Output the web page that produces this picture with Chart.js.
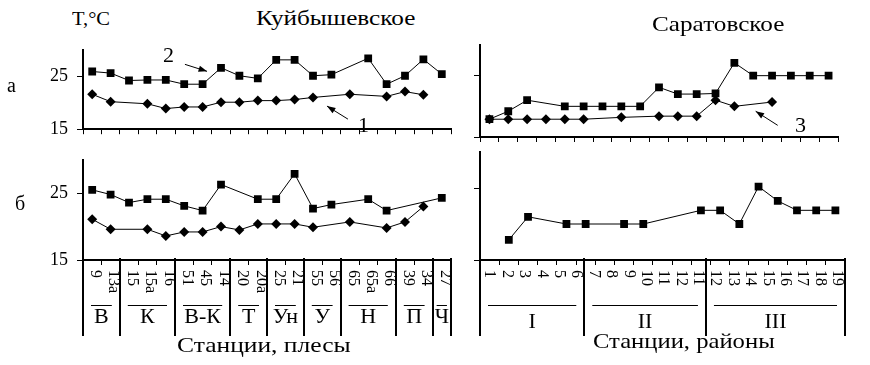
<!DOCTYPE html>
<html>
<head>
<meta charset="utf-8">
<script src="https://cdn.jsdelivr.net/npm/chart.js@4.4.1/dist/chart.umd.min.js"></script>
<style>
    body { margin: 0; background: #fff; }
    #wrap { position: relative; width: 870px; height: 365px; overflow: hidden; font-family: "Liberation Serif", "Times New Roman", serif; color: #000; }
    #wrap canvas { position: absolute; }
    .txt { position: absolute; line-height: 1; white-space: nowrap; transform-origin: left center; }
</style>
</head>
<body>
<div id="wrap">
    <canvas id="kTop" width="462" height="119" style="left:0;top:30px"></canvas>
    <canvas id="kBot" width="462" height="220" style="left:0;top:140px"></canvas>
    <canvas id="sTop" width="400" height="119" style="left:470px;top:30px"></canvas>
    <canvas id="sBot" width="400" height="220" style="left:470px;top:140px"></canvas>

    <div class="txt" style="left:72px;top:10px;font-size:18px;transform:scaleX(1.14)">T,°C</div>
    <div class="txt" style="left:256px;top:8px;font-size:21px;transform:scaleX(1.2)">Куйбышевское</div>
    <div class="txt" style="left:652px;top:14px;font-size:21px;transform:scaleX(1.2)">Саратовское</div>
    <div class="txt" style="left:7px;top:75px;font-size:20px">а</div>
    <div class="txt" style="left:15px;top:193px;font-size:20px">б</div>
    <div class="txt" style="left:163px;top:44px;font-size:22px">2</div>
    <div class="txt" style="left:358px;top:114px;font-size:22px">1</div>
    <div class="txt" style="left:795px;top:114px;font-size:22px">3</div>
    <div class="txt" style="left:177px;top:334px;font-size:22px;transform:scaleX(1.16)">Станции, плесы</div>
    <div class="txt" style="left:593px;top:330px;font-size:22px;transform:scaleX(1.12)">Станции, районы</div>
</div>
<script>
    // Куйбышевское: станции и плесы
    const kuibStations = ['9', '13а', '15', '15а', '16', '51', '45', '14', '20', '20а', '25', '21', '55', '56', '65', '65а', '66', '39', '34', '27'];
    const kuibReaches = ['В', 'К', 'В-К', 'Т', 'Ун', 'У', 'Н', 'П', 'Ч'];
    const kuibReachSizes = [2, 3, 3, 2, 2, 2, 3, 2, 1];

    // а) кривая 2 (квадраты) и 1 (ромбы)
    const kuibTop2 = [25.9, 25.6, 24.2, 24.3, 24.3, 23.5, 23.5, 26.6, 25.1, 24.6, 28.1, 28.1, 25.1, 25.3, null, 28.4, 23.5, 25.1, 28.2, 25.4];
    const kuibTop1 = [21.6, 20.2, null, 19.8, 18.9, 19.2, 19.2, 20.1, 20.1, 20.4, 20.4, 20.6, 21.0, null, 21.6, null, 21.2, 22.1, 21.5, null];
    // б)
    const kuibBot2 = [25.5, 24.8, 23.6, 24.1, 24.1, 23.1, 22.4, 26.3, null, 24.1, 24.1, 27.9, 22.7, 23.3, null, 24.1, 22.4, null, null, 24.3];
    const kuibBot1 = [21.1, 19.6, null, 19.6, 18.6, 19.2, 19.2, 20.0, 19.5, 20.4, 20.4, 20.4, 19.9, null, 20.7, null, 19.8, 20.7, 23.0, null];

    // Саратовское: станции и районы
    const sarStations = ['1', '2', '3', '4', '5', '6', '7', '8', '9', '10', '11', '12', '13', '14', '15', '16', '17', '18', '19'];
    const sarTickLabels = ['1', '2', '3', '4', '5', '6', '7', '8', '9', '10', '11', '12', '11', '12', '13', '14', '15', '16', '17', '18', '19'];
    const sarRegions = ['I', 'II', 'III'];
    const sarRegionSizes = [6, 7, 8];

    const sarTop2 = [17.9, 19.2, 21.0, null, 20.0, 20.0, 20.0, 20.0, 20.0, 23.1, 22.0, 22.0, 22.1, 27.1, 25.0, 25.0, 25.0, 25.0, 25.0];
    const sarTop1 = [17.9, 17.9, 17.9, 17.9, 17.9, 17.9, null, 18.2, null, 18.4, 18.4, 18.4, 21.0, 20.0, null, 20.7, null, null, null];
    const sarBot2 = [null, 17.8, 21.0, null, 20.0, 20.0, null, 20.0, 20.0, null, null, 21.9, 21.9, 20.0, 25.2, 23.2, 21.9, 21.9, 21.9];

    const yTicks = [15, 25];
    const FONT = '"Liberation Serif", "Times New Roman", serif';

    // подписи станций (повернуты), плесы/районы, разделители
    const stationAxis = {
        id: 'stationAxis',
        afterDraw(chart, args, o) {
            if (!o.labels) return;
            const ctx = chart.ctx;
            const a = chart.chartArea;
            const step = (a.right - a.left) / o.labels.length;
            ctx.save();
            ctx.fillStyle = '#000';
            ctx.strokeStyle = '#000';
            ctx.font = '16px ' + FONT;
            o.labels.forEach((t, i) => {
                ctx.save();
                ctx.translate(a.left + step * (i + 0.5) + o.shift, a.bottom + 10);
                ctx.rotate(Math.PI / 2);
                ctx.textAlign = 'left';
                ctx.textBaseline = 'middle';
                ctx.fillText(t, 0, 0);
                ctx.restore();
            });
            ctx.font = '22px ' + FONT;
            ctx.textAlign = 'center';
            ctx.textBaseline = 'middle';
            let k = 0;
            const edges = [0];
            o.sizes.forEach(n => { k += n; edges.push(k); });
            ctx.lineWidth = 2;
            edges.forEach(e => {
                const x = Math.round(a.left + e * step);
                ctx.beginPath();
                ctx.moveTo(x, a.bottom - 2);
                ctx.lineTo(x, a.bottom + 76);
                ctx.stroke();
            });
            ctx.lineWidth = 1;
            o.groups.forEach((g, i) => {
                const x0 = a.left + edges[i] * step, x1 = a.left + edges[i + 1] * step;
                const inset = Math.min(8, (x1 - x0) * 0.22);
                ctx.beginPath();
                ctx.moveTo(x0 + inset, a.bottom + 45.5);
                ctx.lineTo(x1 - inset, a.bottom + 45.5);
                ctx.stroke();
                ctx.fillText(g, (x0 + x1) / 2, a.bottom + o.groupY);
            });
            ctx.restore();
        }
    };

    // стрелки-указатели кривых
    const pointerArrows = {
        id: 'pointerArrows',
        afterDatasetsDraw(chart, args, o) {
            if (!o.items) return;
            const ctx = chart.ctx, xs = chart.scales.x, ys = chart.scales.y;
            ctx.save();
            ctx.strokeStyle = '#000';
            ctx.fillStyle = '#000';
            ctx.lineWidth = 1;
            o.items.forEach(it => {
                const x0 = xs.getPixelForValue(it.from[0]), y0 = ys.getPixelForValue(it.from[1]);
                const x1 = xs.getPixelForValue(it.to[0]), y1 = ys.getPixelForValue(it.to[1]);
                const ang = Math.atan2(y1 - y0, x1 - x0);
                ctx.beginPath();
                ctx.moveTo(x0, y0);
                ctx.lineTo(x1, y1);
                ctx.stroke();
                ctx.beginPath();
                ctx.moveTo(x1, y1);
                ctx.lineTo(x1 - 9 * Math.cos(ang - 0.35), y1 - 9 * Math.sin(ang - 0.35));
                ctx.lineTo(x1 - 9 * Math.cos(ang + 0.35), y1 - 9 * Math.sin(ang + 0.35));
                ctx.closePath();
                ctx.fill();
            });
            ctx.restore();
        }
    };

    function series(data, style, extra) {
        return Object.assign({
            data: data,
            borderColor: '#000',
            borderWidth: 1,
            pointStyle: style,
            pointRadius: style === 'rect' ? 5.5 : 5,
            pointBackgroundColor: '#000',
            pointBorderColor: '#000',
            pointBorderWidth: 0,
            spanGaps: true,
            tension: 0
        }, extra || {});
    }

    function makeChart(id, labels, datasets, cfg) {
        return new Chart(document.getElementById(id), {
            type: 'line',
            data: { labels: labels, datasets: datasets },
            plugins: [stationAxis, pointerArrows],
            options: {
                responsive: false,
                animation: false,
                events: [],
                layout: { padding: { top: cfg.top, right: cfg.right, left: 0, bottom: 0 } },
                plugins: {
                    legend: { display: false },
                    tooltip: { enabled: false },
                    stationAxis: cfg.axis || {},
                    pointerArrows: { items: cfg.arrows }
                },
                scales: {
                    x: {
                        offset: true,
                        grid: { offset: true, drawOnChartArea: false, drawTicks: true, tickLength: 5, color: '#000', lineWidth: 1 },
                        border: { color: '#000', width: 2 },
                        ticks: { display: false },
                        afterFit(s) { s.height = cfg.xHeight; }
                    },
                    y: {
                        min: 15,
                        max: 30,
                        afterBuildTicks(s) { s.ticks = yTicks.map(v => ({ value: v })); },
                        grid: { drawOnChartArea: false, drawTicks: true, tickLength: 6, color: '#000', lineWidth: 1 },
                        border: { color: '#000', width: 2 },
                        ticks: { display: cfg.yLabels, color: '#000', padding: 9, font: { family: FONT, size: 18 } },
                        afterFit(s) { s.width = cfg.yWidth; }
                    }
                }
            }
        });
    }

    // Куйбышевское, а
    makeChart('kTop', kuibStations, [
        series(kuibTop2, 'rect'),
        series(kuibTop1, 'rectRot')
    ], {
        top: 15, right: 11, xHeight: 12, yWidth: 83, yLabels: true,
        arrows: [
            { from: [5.04, 27.25], to: [6.24, 25.93] },
            { from: [13.9, 16.9], to: [12.76, 19.37] }
        ]
    });

    // Куйбышевское, б
    makeChart('kBot', kuibStations, [
        series(kuibBot2, 'rect', {
            segment: { borderColor: c => (c.p1DataIndex - c.p0DataIndex > 2 ? 'rgba(0,0,0,0)' : '#000') }
        }),
        series(kuibBot1, 'rectRot')
    ], {
        top: 12, right: 11, xHeight: 100, yWidth: 83, yLabels: true,
        axis: { labels: kuibStations, groups: kuibReaches, sizes: kuibReachSizes, shift: 3, groupY: 57 }
    });

    // Саратовское, а
    makeChart('sTop', sarStations, [
        series(sarTop2, 'rect'),
        series(sarTop1, 'rectRot')
    ], {
        top: 15, right: 32, xHeight: 12, yWidth: 10, yLabels: false,
        arrows: [
            { from: [15.3, 16.9], to: [14.13, 19.2] }
        ]
    });

    // Саратовское, б
    makeChart('sBot', sarStations, [
        series(sarBot2, 'rect')
    ], {
        top: 12, right: 25, xHeight: 100, yWidth: 10, yLabels: false,
        axis: { labels: sarTickLabels, groups: sarRegions, sizes: sarRegionSizes, shift: 1, groupY: 62 }
    });
</script>
</body>
</html>
